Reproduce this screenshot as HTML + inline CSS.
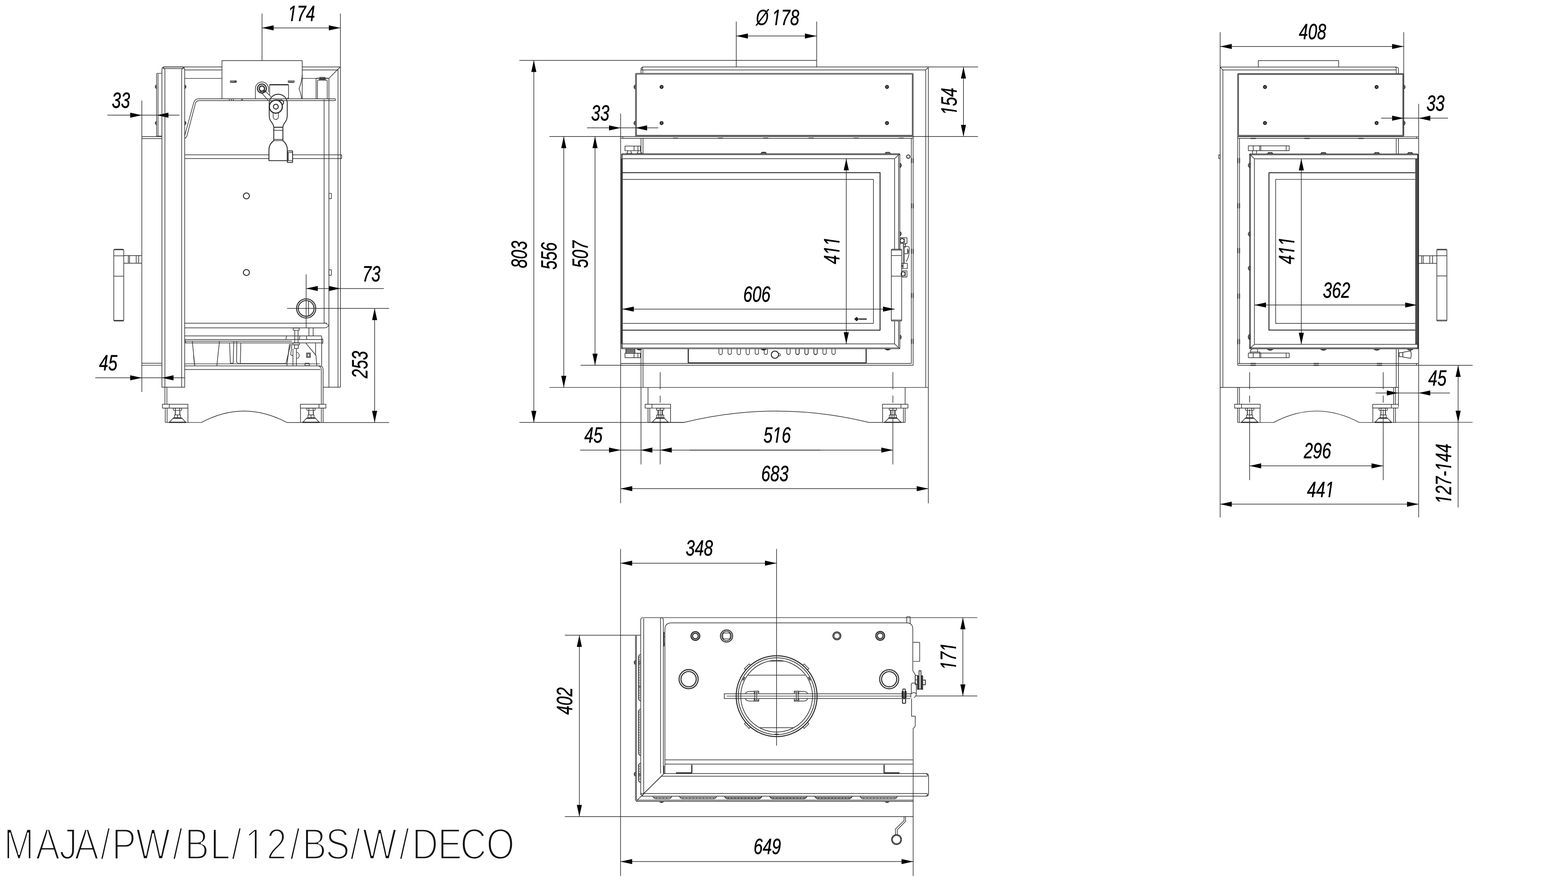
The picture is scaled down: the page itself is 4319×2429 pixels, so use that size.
<!DOCTYPE html>
<html lang="en"><head><meta charset="utf-8"><title>MAJA/PW/BL/12/BS/W/DECO</title>
<style>
html,body{margin:0;padding:0;background:#fff}
body{width:4319px;height:2429px;overflow:hidden;position:relative}
svg{display:block;position:absolute;left:0;top:0}
svg path,svg rect,svg circle,svg ellipse{fill:none;stroke:#2a2a2a;stroke-width:1.7;stroke-linecap:butt;stroke-linejoin:round}
svg path.a{fill:#000;stroke:none}
svg path.w{fill:#fff;stroke:none}
svg text.d tspan.o{stroke-width:0.2px}
svg .k{fill:#111;stroke:none}
svg text.d{font-family:"Liberation Sans",sans-serif;font-style:italic;font-kerning:none;font-variant-ligatures:none;fill:#000;text-anchor:middle;stroke:#000;stroke-width:0.7px}
svg text.t{font-family:"Liberation Sans",sans-serif;font-kerning:none;fill:#111;stroke:#fff;stroke-width:4px;paint-order:fill stroke}
</style></head><body>
<svg width="4319" height="2429" viewBox="0 0 4319 2429">
<g id="left">
<path d="M721.7 37.4L721.7 165.9"/>
<path d="M937.7 37.4L937.7 184.3"/>
<path d="M721.7 76.8L937.7 76.8"/>
<path class="a" d="M721.7 76.8L753.7 69.8L753.7 83.8 Z"/>
<path class="a" d="M937.7 76.8L905.7 69.8L905.7 83.8 Z"/>
<text class="d" transform="translate(830.3 57.8) scale(0.74 1)" font-size="61">174</text>
<path class="w" transform="translate(830.3 57.8) scale(0.74 1)" d="M-51.4 1.8L-39.4 1.8L-37.8 -6.4L-50.0 -6.4ZM-33.1 1.8L-21.1 1.8L-19.9 -6.4L-31.5 -6.4Z"/>
<path d="M296.1 317.2L494.4 317.2"/>
<path class="a" d="M390.6 317.2L358.6 310.2L358.6 324.2 Z"/>
<path class="a" d="M431.9 317.2L463.9 310.2L463.9 324.2 Z"/>
<text class="d" transform="translate(333.2 296.5) scale(0.74 1)" font-size="61">33</text>
<path d="M450.3 184.3L611.2 184.3"/>
<path d="M832.6 184.3L937.7 184.3"/>
<path d="M508.7 192.6L611.2 192.6"/>
<path d="M832.6 192.6L931.1 192.6"/>
<path d="M508.7 216L611.2 216"/>
<path d="M832.6 216L906 216"/>
<path d="M906 216L931.1 190.3L937.7 184.3"/>
<path d="M931.1 190.3L931.1 192.6"/>
<path d="M446 202L433.6 202Q431.3 202 431.3 204.3L431.3 374.9L446 374.9"/>
<path d="M435.3 203.6L435.3 374.9"/>
<path d="M431.3 234C426.3 236.2 426.3 241.8 431.3 244Z" style="fill:#777;stroke-width:1.6"/>
<path d="M431.3 333.9C426.3 336.1 426.3 341.6 431.3 343.9Z" style="fill:#777;stroke-width:1.6"/>
<path d="M508.7 234C513.7 236.2 513.7 241.8 508.7 244Z" style="fill:#777;stroke-width:1.6"/>
<path d="M508.7 333.9C513.7 336.1 513.7 341.6 508.7 343.9Z" style="fill:#777;stroke-width:1.6"/>
<path d="M390.6 376.2L446 376.2"/>
<path d="M390.6 381.6L446 381.6"/>
<path d="M923.7 272.1L547.1 272.1Q537.1 272.1 533.8 282.1L508.7 373.9"/>
<path d="M923.7 277.1L548.8 277.1Q541.1 277.1 538.4 284.4L515.4 372.2Q513.7 378.9 508.7 381.3"/>
<path d="M923.7 272.1L923.7 277.1"/>
<path d="M779.2 350.5L779.2 387.3Q791.5 397.3 791.5 412.3L791.5 442.4L740.8 442.4L740.8 412.3Q740.8 397.3 754.1 387.3L754.1 350.5" style="stroke-width:2.4"/>
<path d="M754.1 350.5L779.2 350.5" style="stroke-width:2.6"/>
<path d="M754.1 358.9L779.2 358.9"/>
<path d="M754.1 383.9L779.2 383.9"/>
<path d="M754.1 387.3L779.2 387.3"/>
<rect x="791.5" y="415.6" width="14.4" height="31.8" style="stroke-width:2.4" rx="1"/>
<path d="M791.5 420L805.9 420"/>
<path d="M791.5 442.4L805.9 442.4"/>
<path d="M794.2 420L794.2 442.4"/>
<path d="M508.7 426.3L740.8 426.3"/>
<path d="M508.7 436.7L740.8 436.7"/>
<path d="M805.9 426.3L941.1 426.3"/>
<path d="M805.9 436.7L941.1 436.7"/>
<path d="M941.1 426.3L941.1 436.7"/>
<path d="M611.4 272.7L611.4 166.8L832.5 166.8L832.5 272.7"/>
<path d="M832.5 205.9Q830.7 228.3 823.7 243.9Q829 257.6 831.1 272.7"/>
<rect x="634.4" y="222.7" width="16.7" height="4.2" rx="0.6"/>
<path d="M646.6 222.7L646.6 226.9"/>
<path d="M648.7 222.7L648.7 226.9"/>
<path d="M636.1 225.5L645.9 225.5" style="stroke-width:1.5"/>
<rect x="793.8" y="222.7" width="16.6" height="4.2" rx="0.6"/>
<path d="M795.4 225.5L808 225.5" style="stroke-width:1.5"/>
<path d="M631.5 272.7L631.5 277.5"/>
<path d="M637.5 272.7L637.5 277.5"/>
<path d="M642.8 272.7L642.8 277.5"/>
<path d="M666.2 272.7L666.2 277.5"/>
<path d="M667.1 272.7L667.1 277.5"/>
<path d="M870.6 272.7L870.6 217.1Q870.6 215.4 872.3 215.4L904.4 215.4"/>
<path d="M874.4 272.7L874.4 222.7Q874.4 221 876.5 221L899.5 221Q901.4 221 901.4 222.7L901.4 272.7"/>
<rect x="880.7" y="212.9" width="14.7" height="4.5" rx="0.6"/>
<path d="M877.9 218.8L898.2 218.8"/>
<path d="M742.7 261.8L742.7 233.9Q742.7 232.7 743.9 232.7L793.6 232.7Q794.7 232.7 794.7 233.9L794.7 270.2L791.2 270.2"/>
<path d="M743.4 233.6L794 233.6" style="stroke-width:3"/>
<path d="M703.5 272.7L703.5 243.9A18 18 0 0 1 739.5 243.9L739.5 253.4"/>
<circle cx="721.4" cy="243.9" r="12.3" style="stroke-width:3"/>
<circle cx="721.4" cy="243.9" r="7.3" style="stroke-width:3.4"/>
<path d="M714.8 248.9L740.2 278.3"/>
<path d="M728.1 247.8L746.2 266.7"/>
<path d="M723.5 254.1L731.4 248.7"/>
<path d="M754.1 350.5Q753.5 343.6 747.9 336.6Q741.6 328.9 741.6 317.7L741.6 282.1A24.9 24.9 0 0 1 791.2 282.1L791.2 317.7Q791.2 328.9 785.4 336.6Q779.8 343.6 779.2 350.5" style="stroke-width:2.4"/>
<path d="M752.4 310.7L752.4 321.9A7.1 7.1 0 0 0 766.8 321.9L766.8 310.7"/>
<path d="M759.1 275.8L773.1 275.8A6.7 6.7 0 0 1 777.3 288.4" style="stroke-width:2.6"/>
<path d="M767.5 277.5Q774.5 280 776.6 287"/>
<circle cx="759.8" cy="293.7" r="17.9" style="stroke-width:3.2;fill:#fff"/>
<circle cx="759.8" cy="293.7" r="6.7" style="stroke-width:2.6"/>
<path d="M390.6 277.1L390.6 1079.5"/>
<path d="M446 1066.4L446 191.3Q446 184.3 453 184.3L501.7 184.3Q508.7 184.3 508.7 191.3L508.7 1066.4Z"/>
<path d="M454.3 1066.4L454.3 194.3Q454.3 188.3 448.3 186.3"/>
<path d="M500.4 1066.4L500.4 194.3Q500.4 188.3 506.4 186.3"/>
<path d="M449 188.8L505.7 188.8"/>
<path d="M937.7 184.3L937.7 1066.4"/>
<path d="M931.1 192L931.1 1066.4"/>
<path d="M906 216L906 1066.4"/>
<path d="M892.7 274L892.7 890"/>
<path d="M890 1066.4L937.7 1066.4"/>
<rect x="313.4" y="686.4" width="27.4" height="197.8" rx="3"/>
<path d="M314.4 687.9L339.8 687.9"/>
<path d="M314.4 882.2L339.8 882.2"/>
<path d="M313.4 704.5L340.8 704.5"/>
<path d="M313.4 760.6L340.8 760.6"/>
<path d="M340.8 703.8L390.6 703.8"/>
<path d="M340.8 724.8L390.6 724.8"/>
<path d="M353.5 703.8L353.5 724.8"/>
<path d="M356.8 703.8L356.8 724.8"/>
<path d="M375.2 703.8L375.2 724.8"/>
<path d="M381.9 703.8L381.9 724.8"/>
<circle cx="678.7" cy="539.5" r="8.3" style="stroke-width:2.6"/>
<circle cx="678.7" cy="750.5" r="8.3" style="stroke-width:2.6"/>
<rect x="906" y="532.5" width="6.7" height="14.4"/>
<rect x="906" y="743.2" width="6.7" height="14.7"/>
<path d="M843.3 794.6L1057.3 794.6"/>
<path class="a" d="M843.3 794.6L875.3 787.6L875.3 801.6 Z"/>
<path class="a" d="M937.7 794.6L905.7 787.6L905.7 801.6 Z"/>
<text class="d" transform="translate(1023.1 774.6) scale(0.74 1)" font-size="61">73</text>
<path d="M843.3 755.6L843.3 902.9"/>
<circle cx="843.3" cy="849.4" r="26.4" style="stroke-width:2.6"/>
<circle cx="843.3" cy="849.4" r="21.7" style="stroke-width:2.6"/>
<path d="M849.9 828.7L849.9 870.1"/>
<path d="M790.8 849.4L1071.9 849.4"/>
<path d="M1031.9 849.4L1031.9 1163.6"/>
<path class="a" d="M1031.9 849.4L1024.9 881.4L1038.9 881.4 Z"/>
<path class="a" d="M1031.9 1163.6L1024.9 1131.6L1038.9 1131.6 Z"/>
<text class="d" transform="translate(1012.2 1004) rotate(-90) scale(0.74 1)" font-size="61">253</text>
<path d="M554.5 1163.6Q671.3 1100.5 790.2 1163.6"/>
<path d="M790.2 1163.6L1071.9 1163.6"/>
<path d="M262.4 1040.4L508.7 1040.4"/>
<path class="a" d="M390.6 1040.4L358.6 1033.4L358.6 1047.4 Z"/>
<path class="a" d="M446 1040.4L478 1033.4L478 1047.4 Z"/>
<text class="d" transform="translate(298.2 1019.7) scale(0.74 1)" font-size="61">45</text>
<path d="M390.6 1000.3L446 1000.3"/>
<path d="M390.6 1006L446 1006"/>
<path d="M508.7 890.2L901 890.2"/>
<path d="M508.7 902.9L892.7 902.9Q905 902.9 906 890.2"/>
<path d="M892.7 888.5Q892.7 890.2 897.7 890.2Q901 890.2 901 895.2"/>
<path d="M508.7 925.2L886 925.2"/>
<path d="M508.7 935.2L886 935.2"/>
<path d="M886 925.2L886 1007.7"/>
<rect x="886" y="933.6" width="3.3" height="11.7"/>
<path d="M508.7 939.6L804.2 939.6"/>
<path d="M508.7 944.3L884.3 944.3"/>
<path d="M508.7 935.2L512.1 944.3"/>
<path d="M529.8 940.2L536.4 1007.7"/>
<path d="M604.5 940.2L597.2 1007.7"/>
<path d="M632.3 945.3L634.6 1000.3L642.3 1000.3L643.9 940.2"/>
<path d="M652.3 940.2L651.6 997L655.6 1001L787.5 1001L800.9 946.9"/>
<path d="M663.3 945.3L662 1000.3"/>
<path d="M797.5 946.9L790.2 1007.7"/>
<path d="M533.1 980.3L536.4 1007.7"/>
<path d="M508.7 1002L881 1002"/>
<path d="M508.7 1007.7L881 1007.7"/>
<path d="M804.2 946.9L800.9 977L806.9 980.3"/>
<path d="M508.7 1017.7L882.6 1017.7"/>
<path d="M881 1007.7Q890 1008.4 890 1017.7L890 1113.2"/>
<path d="M885 1017.7L885 1113.2"/>
<path d="M877.6 1007.7Q885 1010.4 885 1017.7"/>
<rect x="807.5" y="903.5" width="16.7" height="6" rx="1"/>
<path d="M811.9 909.5L811.9 944.3"/>
<path d="M820.9 909.5L820.9 944.3"/>
<rect x="806.9" y="944.3" width="18" height="5.3" rx="1"/>
<rect x="810.9" y="949.6" width="10.7" height="10"/>
<path d="M850.9 902.9L850.9 925.2"/>
<path d="M862.6 902.9L862.6 925.2"/>
<path d="M806.9 960.3L806.9 1007.7"/>
<path d="M816.5 960.3L816.5 1007.7"/>
<path d="M817.5 970.3A9 9 0 0 1 817.5 987.7"/>
<rect x="844.3" y="972" width="10.6" height="12.3"/>
<rect x="846.9" y="974.3" width="5.7" height="7.7"/>
<rect x="840.2" y="1000.3" width="11.7" height="6.7"/>
<path d="M842.6 945.3L870.3 978.6L872.6 1007.7"/>
<path d="M869.3 945.3L869.3 978.6"/>
<path d="M789.2 925.2L787.5 935.2"/>
<path d="M843.6 925.2L845.3 935.2"/>
<path d="M825.9 925.2L824.9 935.2"/>
<path d="M454.3 1066.4L454.3 1113.2"/>
<path d="M459.7 1066.4L459.7 1113.2"/>
<rect x="447.4" y="1113.4" width="70.2" height="10.4"/>
<path d="M466.3 1113.4L466.3 1123.8"/>
<path d="M455.2 1123.8L455.2 1163.5"/>
<path d="M460.3 1123.8L460.3 1163.5"/>
<path d="M517.6 1123.8L517.6 1163.5"/>
<path d="M455.2 1163.5L554.7 1163.5"/>
<rect x="827.4" y="1113.4" width="70.2" height="10.4"/>
<path d="M878.7 1113.4L878.7 1123.8"/>
<path d="M885 1123.8L885 1163.5"/>
<path d="M890 1123.8L890 1163.5"/>
<path d="M827.7 1123.8L827.7 1163.5"/>
<rect x="477.4" y="1124.1" width="23.2" height="5.9" rx="1.6"/>
<path d="M483.1 1124.1L483.1 1130"/>
<path d="M494.9 1124.1L494.9 1130"/>
<path d="M482.7 1130L482.7 1142.6" style="stroke-width:2.2"/>
<path d="M495.3 1130L495.3 1142.6" style="stroke-width:2.2"/>
<rect x="480.7" y="1142.6" width="16.6" height="7.8" rx="1"/>
<path d="M489 1142.6L489 1150.4"/>
<path d="M476.4 1151.6L501.6 1151.6" style="stroke-width:3.2"/>
<path d="M476.6 1152L466.5 1162.9L511.5 1162.9L501.4 1152"/>
<path d="M465 1163.1L513 1163.1" style="stroke-width:3.2"/>
<rect x="845.1" y="1124.1" width="23.2" height="5.9" rx="1.6"/>
<path d="M850.8 1124.1L850.8 1130"/>
<path d="M862.6 1124.1L862.6 1130"/>
<path d="M850.4 1130L850.4 1142.6" style="stroke-width:2.2"/>
<path d="M863 1130L863 1142.6" style="stroke-width:2.2"/>
<rect x="848.4" y="1142.6" width="16.6" height="7.8" rx="1"/>
<path d="M856.7 1142.6L856.7 1150.4"/>
<path d="M844.1 1151.6L869.3 1151.6" style="stroke-width:3.2"/>
<path d="M844.3 1152L834.2 1162.9L879.2 1162.9L869.1 1152"/>
<path d="M832.7 1163.1L880.7 1163.1" style="stroke-width:3.2"/>
</g>
<g id="front">
<path d="M1430.7 166.3L2249.5 166.3"/>
<path d="M1470.4 166.3L1470.4 1163.4"/>
<path class="a" d="M1470.4 166.3L1463.4 198.3L1477.4 198.3 Z"/>
<path class="a" d="M1470.4 1163.4L1463.4 1131.4L1477.4 1131.4 Z"/>
<path d="M1552.9 375.9L1552.9 1067"/>
<path class="a" d="M1552.9 375.9L1545.9 407.9L1559.9 407.9 Z"/>
<path class="a" d="M1552.9 1067L1545.9 1035L1559.9 1035 Z"/>
<path d="M1639 375.9L1639 1005.9"/>
<path class="a" d="M1639 375.9L1632 407.9L1646 407.9 Z"/>
<path class="a" d="M1639 1005.9L1632 973.9L1646 973.9 Z"/>
<path d="M1513.5 375.9L1715.5 375.9"/>
<path d="M1599.3 1005.9L1715.5 1005.9"/>
<path d="M1513.5 1067L2557 1067"/>
<path d="M1430.7 1163.4L1884.1 1163.4"/>
<text class="d" transform="translate(1450.7 700.8) rotate(-90) scale(0.74 1)" font-size="61">803</text>
<text class="d" transform="translate(1532.9 704.9) rotate(-90) scale(0.74 1)" font-size="61">556</text>
<text class="d" transform="translate(1618.7 700.3) rotate(-90) scale(0.74 1)" font-size="61">507</text>
<path d="M2028 59.4L2028 184.3"/>
<path d="M2028 99.2L2249 99.2"/>
<path class="a" d="M2028 99.2L2060 92.2L2060 106.2 Z"/>
<path class="a" d="M2249 99.2L2217 92.2L2217 106.2 Z"/>
<text class="d" transform="translate(2141.8 69.4) scale(0.74 1)" font-size="61"><tspan class="o">Ø</tspan> 178</text>
<path class="w" transform="translate(2141.8 69.4) scale(0.74 1)" d="M-21.5 1.8L-9.6 1.8L-8.0 -6.4L-20.2 -6.4ZM-3.3 1.8L8.7 1.8L10.0 -6.4L-1.7 -6.4Z"/>
<path d="M2249.5 59.4L2249.5 184.3"/>
<path d="M1765.6 202L1765.6 191.3Q1765.6 184.3 1772.6 184.3L2693.9 184.3"/>
<path d="M1765.6 192.6L2550 192.6"/>
<path d="M1770.6 192.6L1770.6 202"/>
<path d="M1770.6 192.6Q1767.2 188.6 1771.2 185.3"/>
<path d="M2550 192L2557 186"/>
<path d="M2550 192.6L2550 1067"/>
<path d="M2557 185.8L2557 1386"/>
<path d="M1709.5 312.8L1709.5 1386"/>
<rect x="1750.5" y="202" width="764.8" height="173.2" rx="1.5"/>
<rect x="1753" y="204.5" width="759.8" height="168.2"/>
<circle cx="1822.3" cy="239.4" r="5" style="stroke-width:1;fill:#1c1c1c"/>
<path d="M1819.3 239.4h6" style="stroke:#aaa;stroke-width:1"/>
<path d="M1822.3 236.4v6" style="stroke:#aaa;stroke-width:1"/>
<circle cx="1822.3" cy="338.9" r="5" style="stroke-width:1;fill:#1c1c1c"/>
<path d="M1819.3 338.9h6" style="stroke:#aaa;stroke-width:1"/>
<path d="M1822.3 335.9v6" style="stroke:#aaa;stroke-width:1"/>
<circle cx="2443.2" cy="239.4" r="5" style="stroke-width:1;fill:#1c1c1c"/>
<path d="M2440.2 239.4h6" style="stroke:#aaa;stroke-width:1"/>
<path d="M2443.2 236.4v6" style="stroke:#aaa;stroke-width:1"/>
<circle cx="2443.2" cy="338.9" r="5" style="stroke-width:1;fill:#1c1c1c"/>
<path d="M2440.2 338.9h6" style="stroke:#aaa;stroke-width:1"/>
<path d="M2443.2 335.9v6" style="stroke:#aaa;stroke-width:1"/>
<path d="M1750.2 233.7C1744.8 236.3 1744.8 242.5 1750.2 245.1Z" style="fill:#777;stroke-width:1.6"/>
<path d="M1750.2 333.2C1744.8 335.8 1744.8 342 1750.2 344.6Z" style="fill:#777;stroke-width:1.6"/>
<path d="M1617 352.2L1813 352.2"/>
<path class="a" d="M1709.5 352.2L1677.5 345.2L1677.5 359.2 Z"/>
<path class="a" d="M1750.5 352.2L1782.5 345.2L1782.5 359.2 Z"/>
<text class="d" transform="translate(1653.4 331.5) scale(0.74 1)" font-size="61">33</text>
<path d="M1709.5 375.9L2693.9 375.9"/>
<path d="M1709.5 380.9L2515.3 380.9"/>
<path d="M1715.5 375.9L1715.5 380.9"/>
<path d="M1854 379.9L1867.4 379.9" style="stroke-width:1.5"/>
<path d="M1977.6 379.9L1990.9 379.9" style="stroke-width:1.5"/>
<path d="M2102.8 379.9L2116.1 379.9" style="stroke-width:1.5"/>
<path d="M2228 379.9L2241.3 379.9" style="stroke-width:1.5"/>
<path d="M1978.5 379.9L1991.8 379.9" style="stroke-width:1.5"/>
<path d="M2102.6 379.9L2116 379.9" style="stroke-width:1.5"/>
<path d="M2227.2 379.9L2240.5 379.9" style="stroke-width:1.5"/>
<path d="M2351.4 379.9L2364.7 379.9" style="stroke-width:1.5"/>
<path d="M2475.9 379.9L2489.2 379.9" style="stroke-width:1.5"/>
<path d="M2653.8 184.3L2653.8 375.9"/>
<path class="a" d="M2653.8 184.3L2646.8 216.3L2660.8 216.3 Z"/>
<path class="a" d="M2653.8 375.9L2646.8 343.9L2660.8 343.9 Z"/>
<text class="d" transform="translate(2634.5 279.4) rotate(-90) scale(0.74 1)" font-size="61">154</text>
<path class="w" transform="translate(2634.5 279.4) rotate(-90) scale(0.74 1)" d="M-51.4 1.8L-39.4 1.8L-37.8 -6.4L-50.0 -6.4ZM-33.1 1.8L-21.1 1.8L-19.9 -6.4L-31.5 -6.4Z"/>
<path d="M1765.6 380.9L1765.6 423.3"/>
<path d="M1771.2 380.9L1771.2 423.3"/>
<path d="M1765.6 961.8L1765.6 1279"/>
<path d="M1771.2 961.8L1771.2 1067"/>
<path d="M2510.3 380.9L2510.3 1000.9"/>
<path d="M2515.3 375.2L2515.3 1005.9"/>
<path d="M1709.5 1005.9L2515.3 1005.9"/>
<path d="M1709.5 1000.9L2510.3 1000.9"/>
<path d="M2510.6 560.2L2510.6 573.5" style="stroke-width:2.6"/>
<path d="M2515.3 560.2L2515.3 573.5" style="stroke-width:2.6"/>
<path d="M2510.6 685.4L2510.6 698.7" style="stroke-width:2.6"/>
<path d="M2515.3 685.4L2515.3 698.7" style="stroke-width:2.6"/>
<path d="M2510.6 807.2L2510.6 820.6" style="stroke-width:2.6"/>
<path d="M2515.3 807.2L2515.3 820.6" style="stroke-width:2.6"/>
<path d="M2510.6 933.4L2510.6 946.8" style="stroke-width:2.6"/>
<path d="M2515.3 933.4L2515.3 946.8" style="stroke-width:2.6"/>
<path d="M2510.6 435.7L2510.6 449" style="stroke-width:2.6"/>
<path d="M2515.3 435.7L2515.3 449" style="stroke-width:2.6"/>
<circle cx="2501.9" cy="431.3" r="4.7" style="stroke-width:2.4"/>
<rect x="1721.5" y="402.3" width="42.4" height="12.7"/>
<path d="M1746.5 402.3L1746.5 415"/>
<path d="M1757.2 402.3L1757.2 415"/>
<path d="M1728.8 415L1728.8 419L1725.5 422.7L1741.2 422.7L1737.9 419L1737.9 415"/>
<path d="M1757.2 415L1757.2 419L1753.9 422.7L1768.9 422.7L1764.9 419L1764.9 415"/>
<rect x="1721.5" y="972.8" width="42.4" height="12.4"/>
<path d="M1746.5 972.8L1746.5 985.2"/>
<path d="M1757.2 972.8L1757.2 985.2"/>
<rect x="1723.8" y="961.1" width="25.1" height="11.7"/>
<path d="M1723.8 963.5L1748.9 963.5" style="stroke-width:1.5"/>
<path d="M1723.8 965.8L1748.9 965.8" style="stroke-width:1.5"/>
<path d="M1723.8 968.1L1748.9 968.1" style="stroke-width:1.5"/>
<path d="M1723.8 970.5L1748.9 970.5" style="stroke-width:1.5"/>
<path d="M1753.9 961.1Q1760.6 967.5 1767.9 961.1" style="fill:#333"/>
<path d="M1709.5 1000.9L1764.9 1000.9"/>
<rect x="1712.2" y="423.3" width="766.4" height="537.2" rx="2"/>
<path d="M1712.2 425.8L2478.6 425.8"/>
<path d="M1712.2 958L2478.6 958"/>
<path d="M1715.2 437.1L2464.2 437.1"/>
<path d="M1715.2 947.1L2464.2 947.1"/>
<path d="M2464.2 437.1L2464.2 947.1"/>
<path d="M2475.1 428.3L2475.1 955.5"/>
<path d="M2464.2 437.1L2478.6 423.3"/>
<path d="M2464.2 947.1L2478.6 960.5"/>
<path d="M1712.8 437.1L1712.8 947.1" style="stroke-width:4.4"/>
<path d="M1714.4 425.3L1714.4 958.5" style="stroke-width:1.4"/>
<path d="M1713.8 475.5L2424.1 475.5L2424.1 909.3L1713.8 909.3" style="stroke-width:2.6"/>
<path d="M1715.8 494.1L2405.8 494.1L2405.8 890.6L1715.8 890.6"/>
<path d="M2095.4 423.3L2098.8 419.3L2108.1 419.3L2111.4 423.3"/>
<path d="M2097.4 421.3L2109.4 421.3" style="stroke-width:1.5"/>
<path d="M2095.6 423.3L2099 419.3L2108.3 419.3L2111.7 423.3"/>
<path d="M2097.6 421.3L2109.7 421.3" style="stroke-width:1.5"/>
<path d="M2437.2 423.3L2440.5 419.3L2449.9 419.3L2453.2 423.3"/>
<path d="M2439.2 421.3L2451.2 421.3" style="stroke-width:1.5"/>
<path d="M2096.1 961.1Q2103.4 967.5 2111.1 961.1" style="fill:#333"/>
<path d="M2096.3 961.1Q2103.6 967.5 2111 961.1" style="fill:#333"/>
<path d="M2437.5 961.1Q2445.2 967.5 2452.9 961.1" style="fill:#333"/>
<path d="M2478.6 449.7C2484 452.4 2484 459 2478.6 461.7Z" style="fill:#777;stroke-width:1.6"/>
<path d="M2478.6 449C2484 451.7 2484 458.3 2478.6 461Z" style="fill:#777;stroke-width:1.6"/>
<path d="M2478.6 637.6C2484 640.3 2484 646.9 2478.6 649.6Z" style="fill:#777;stroke-width:1.6"/>
<path d="M2478.6 922.4C2484 925.1 2484 931.7 2478.6 934.4Z" style="fill:#777;stroke-width:1.6"/>
<text class="d" transform="translate(2084.8 830.6) scale(0.74 1)" font-size="61">606</text>
<path d="M2331 437.1L2331 947.1"/>
<path class="a" d="M2331 437.1L2324 469.1L2338 469.1 Z"/>
<path class="a" d="M2331 947.1L2324 915.1L2338 915.1 Z"/>
<text class="d" transform="translate(2312.3 689.8) rotate(-90) scale(0.74 1)" font-size="61">411</text>
<path class="w" transform="translate(2312.3 689.8) rotate(-90) scale(0.74 1)" d="M-17.4 1.8L-5.5 1.8L-3.9 -6.4L-16.1 -6.4ZM0.8 1.8L12.8 1.8L14.1 -6.4L2.4 -6.4ZM16.5 1.8L28.4 1.8L30.0 -6.4L17.9 -6.4ZM34.7 1.8L46.7 1.8L48.0 -6.4L36.3 -6.4Z"/>
<path d="M2353.4 878.7L2359.4 873L2365.4 878.7L2359.4 884.4Z" style="stroke-width:1;fill:#222"/>
<path d="M2366.1 878.7L2387.4 878.7" style="stroke-width:3.5"/>
<rect x="2455.2" y="686.4" width="28.4" height="197.6" style="fill:#fff" rx="1.7"/>
<path d="M2455.2 688.7L2483.6 688.7"/>
<path d="M2455.2 703.7L2483.6 703.7"/>
<path d="M2455.2 760.5L2483.6 760.5"/>
<path d="M2455.9 881.4L2482.9 881.4"/>
<rect x="2478.6" y="654.7" width="19.7" height="15.7" rx="1"/>
<circle cx="2484.9" cy="662.7" r="5.7" style="stroke-width:2.4"/>
<path d="M2490.9 657L2490.9 668.7"/>
<rect x="2483.6" y="745.5" width="14.7" height="17.7" rx="1"/>
<circle cx="2487.6" cy="754.2" r="5.7" style="stroke-width:2.4"/>
<path d="M2493.6 747.1L2493.6 761.2"/>
<rect x="2483.6" y="725.4" width="15.7" height="14.1"/>
<path d="M2487.6 725.4L2487.6 739.5"/>
<circle cx="2484.9" cy="732.5" r="1.7"/>
<path d="M2478.6 670.4L2478.6 686.4"/>
<path d="M2488.2 670.4L2488.2 725.4"/>
<path d="M2494.3 670.4L2494.3 680.4L2490.9 680.4L2490.9 725.4"/>
<path d="M2499.3 678.7Q2504.9 677.7 2504.9 687Q2504.9 707.1 2495.9 720.4"/>
<path d="M2499.3 685.4Q2501.9 685.4 2501.9 692.1Q2501.9 698.7 2499.3 698.7" style="fill:#333"/>
<path d="M2488.2 678.7L2499.3 678.7"/>
<path d="M2490.9 698.7L2499.3 698.7"/>
<path d="M2488.2 673.7L2494.3 673.7"/>
<path d="M1713.8 851.3L2464.2 851.3"/>
<path class="a" d="M1713.8 851.3L1745.8 844.3L1745.8 858.3 Z"/>
<path class="a" d="M2464.2 851.3L2432.2 844.3L2432.2 858.3 Z"/>
<path d="M1895.8 960.5L1895.8 999.5" style="stroke-width:3"/>
<path d="M2385.8 960.5L2385.8 999.5" style="stroke-width:3"/>
<path d="M1895.8 999.5L2385.8 999.5" style="stroke-width:3"/>
<path d="M1980.2 961.1L1980.2 972.1A4.7 4.7 0 0 0 1989.6 972.1L1989.6 961.1"/>
<path d="M2005.3 961.1L2005.3 972.1A4.7 4.7 0 0 0 2014.6 972.1L2014.6 961.1"/>
<path d="M2030.3 961.1L2030.3 972.1A4.7 4.7 0 0 0 2039.7 972.1L2039.7 961.1"/>
<path d="M2055 961.1L2055 972.1A4.7 4.7 0 0 0 2064.4 972.1L2064.4 961.1"/>
<path d="M2080.1 961.1L2080.1 972.1A4.7 4.7 0 0 0 2089.4 972.1L2089.4 961.1"/>
<path d="M2104.8 961.1L2104.8 972.1A4.7 4.7 0 0 0 2114.1 972.1L2114.1 961.1"/>
<path d="M2167.2 961.1L2167.2 972.1A4.7 4.7 0 0 0 2176.5 972.1L2176.5 961.1"/>
<path d="M2191.9 961.1L2191.9 972.1A4.7 4.7 0 0 0 2201.2 972.1L2201.2 961.1"/>
<path d="M2216.9 961.1L2216.9 972.1A4.7 4.7 0 0 0 2226.3 972.1L2226.3 961.1"/>
<path d="M2241.6 961.1L2241.6 972.1A4.7 4.7 0 0 0 2251 972.1L2251 961.1"/>
<circle cx="2134.5" cy="976.8" r="10" style="stroke-width:2.6"/>
<path d="M2143.8 973.5Q2149.8 973.5 2149.8 977.2Q2149.8 980.8 2143.8 980.2"/>
<path d="M2192.1 961.1L2192.1 972.1A4.7 4.7 0 0 0 2201.5 972.1L2201.5 961.1"/>
<path d="M2216.8 961.1L2216.8 972.1A4.7 4.7 0 0 0 2226.2 972.1L2226.2 961.1"/>
<path d="M2241.9 961.1L2241.9 972.1A4.7 4.7 0 0 0 2251.2 972.1L2251.2 961.1"/>
<path d="M2266.6 961.1L2266.6 972.1A4.7 4.7 0 0 0 2275.9 972.1L2275.9 961.1"/>
<path d="M2291.3 961.1L2291.3 972.1A4.7 4.7 0 0 0 2300.6 972.1L2300.6 961.1"/>
<rect x="1777.1" y="1113.4" width="70.1" height="10.6"/>
<path d="M1795.8 1113.4L1795.8 1124"/>
<path d="M1784.9 1066.9L1784.9 1113.4"/>
<path d="M1784.9 1124L1784.9 1163.3"/>
<path d="M1789.8 1124L1789.8 1163.3"/>
<path d="M1847 1124L1847 1163.3"/>
<path d="M1784.9 1163.3L1883.8 1163.3"/>
<rect x="2430.7" y="1113.4" width="70.1" height="10.6"/>
<path d="M2481.6 1113.4L2481.6 1124"/>
<path d="M2493.2 1066.9L2493.2 1113.4"/>
<path d="M2493.2 1124L2493.2 1163.3"/>
<path d="M2488.4 1124L2488.4 1163.3"/>
<path d="M2431.2 1124L2431.2 1163.3"/>
<path d="M2393.3 1163.3L2493.2 1163.3"/>
<rect x="1808.3" y="1124.3" width="20.4" height="5.3" rx="1.2"/>
<path d="M1812.9 1129.6L1812.9 1142.7" style="stroke-width:3"/>
<path d="M1824.1 1129.6L1824.1 1142.7" style="stroke-width:3"/>
<path d="M1818.5 1124L1818.5 1163.4"/>
<rect x="1808.7" y="1142.7" width="19.6" height="7.7" rx="1"/>
<path d="M1813.7 1142.7L1813.7 1150.4"/>
<path d="M1823.3 1142.7L1823.3 1150.4"/>
<path d="M1806.1 1151.6L1830.9 1151.6" style="stroke-width:3.2"/>
<path d="M1806.5 1152L1796.5 1162.8L1840.5 1162.8L1830.5 1152"/>
<path d="M1794.5 1163L1842.5 1163" style="stroke-width:3.2"/>
<path d="M1818.5 1025L1818.5 1072"/>
<path d="M1818.5 1089.6L1818.5 1109.3"/>
<path d="M1818.5 1163.4L1818.5 1279"/>
<rect x="2449.2" y="1124.3" width="20.4" height="5.3" rx="1.2"/>
<path d="M2453.8 1129.6L2453.8 1142.7" style="stroke-width:3"/>
<path d="M2465 1129.6L2465 1142.7" style="stroke-width:3"/>
<path d="M2459.4 1124L2459.4 1163.4"/>
<rect x="2449.6" y="1142.7" width="19.6" height="7.7" rx="1"/>
<path d="M2454.6 1142.7L2454.6 1150.4"/>
<path d="M2464.2 1142.7L2464.2 1150.4"/>
<path d="M2447 1151.6L2471.8 1151.6" style="stroke-width:3.2"/>
<path d="M2447.4 1152L2437.4 1162.8L2481.4 1162.8L2471.4 1152"/>
<path d="M2435.4 1163L2483.4 1163" style="stroke-width:3.2"/>
<path d="M2459.4 1025L2459.4 1072"/>
<path d="M2459.4 1089.6L2459.4 1109.3"/>
<path d="M2459.4 1163.4L2459.4 1279"/>
<path d="M1883.8 1163.4Q2138.6 1100.8 2393.3 1163.4"/>
<path d="M1598 1239.6L2260 1239.6"/>
<path class="a" d="M1709.5 1239.6L1677.5 1232.6L1677.5 1246.6 Z"/>
<path class="a" d="M1764.9 1239.6L1796.9 1232.6L1796.9 1246.6 Z"/>
<path class="a" d="M1818.3 1239.6L1850.3 1232.6L1850.3 1246.6 Z"/>
<text class="d" transform="translate(1634.5 1218.9) scale(0.74 1)" font-size="61">45</text>
<text class="d" transform="translate(2140.6 1218.9) scale(0.74 1)" font-size="61">516</text>
<path class="w" transform="translate(2140.6 1218.9) scale(0.74 1)" d="M-17.4 1.8L-5.5 1.8L-3.9 -6.4L-16.1 -6.4ZM0.8 1.8L12.8 1.8L14.1 -6.4L2.4 -6.4Z"/>
<text class="d" transform="translate(2134.4 1324.7) scale(0.74 1)" font-size="61">683</text>
<path d="M1900 1239.6L2459.5 1239.6"/>
<path class="a" d="M2459.5 1239.6L2427.5 1232.6L2427.5 1246.6 Z"/>
<path d="M1709.5 1345.7L2557 1345.7"/>
<path class="a" d="M1709.5 1345.7L1741.5 1338.7L1741.5 1352.7 Z"/>
<path class="a" d="M2557 1345.7L2525 1338.7L2525 1352.7 Z"/>
</g>
<g id="right">
<path d="M3360.8 88.4L3360.8 1425"/>
<path d="M3866.5 88.4L3866.5 374.9"/>
<path d="M3360.8 128.1L3866.5 128.1"/>
<path class="a" d="M3360.8 128.1L3392.8 121.1L3392.8 135.1 Z"/>
<path class="a" d="M3866.5 128.1L3834.5 121.1L3834.5 135.1 Z"/>
<text class="d" transform="translate(3615.5 107.8) scale(0.74 1)" font-size="61">408</text>
<path d="M3465.9 184.6L3465.9 166.9L3687.3 166.9L3687.3 184.6"/>
<path d="M3360.8 186.9Q3360.8 184.6 3364.1 184.6L3845.2 184.6Q3851.9 184.6 3851.9 191.2L3851.9 202.6"/>
<path d="M3368.4 192.6L3845.8 192.6"/>
<path d="M3845.8 202.6L3845.8 189.2Q3845.8 185.9 3843.5 184.9"/>
<path d="M3361.4 185.6L3368.4 192.6"/>
<path d="M3368.4 192.6L3368.4 1066.9"/>
<rect x="3409.2" y="202.6" width="457.3" height="172.3" rx="1.3"/>
<rect x="3411.5" y="204.9" width="452.7" height="167.6"/>
<circle cx="3484.3" cy="239.6" r="5" style="stroke-width:1;fill:#1c1c1c"/>
<path d="M3481.3 239.6h6" style="stroke:#aaa;stroke-width:1"/>
<path d="M3484.3 236.6v6" style="stroke:#aaa;stroke-width:1"/>
<circle cx="3484.3" cy="338.8" r="5" style="stroke-width:1;fill:#1c1c1c"/>
<path d="M3481.3 338.8h6" style="stroke:#aaa;stroke-width:1"/>
<path d="M3484.3 335.8v6" style="stroke:#aaa;stroke-width:1"/>
<circle cx="3791.8" cy="239.6" r="5" style="stroke-width:1;fill:#1c1c1c"/>
<path d="M3788.8 239.6h6" style="stroke:#aaa;stroke-width:1"/>
<path d="M3791.8 236.6v6" style="stroke:#aaa;stroke-width:1"/>
<circle cx="3791.8" cy="338.8" r="5" style="stroke-width:1;fill:#1c1c1c"/>
<path d="M3788.8 338.8h6" style="stroke:#aaa;stroke-width:1"/>
<path d="M3791.8 335.8v6" style="stroke:#aaa;stroke-width:1"/>
<path d="M3866.5 233.9C3871.9 236.5 3871.9 242.7 3866.5 245.3Z" style="fill:#777;stroke-width:1.6"/>
<path d="M3866.5 333.1C3871.9 335.7 3871.9 341.9 3866.5 344.5Z" style="fill:#777;stroke-width:1.6"/>
<path d="M3804.1 325.4L3988.4 325.4"/>
<path class="a" d="M3866.5 325.4L3834.5 318.4L3834.5 332.4 Z"/>
<path class="a" d="M3907.6 325.4L3939.6 318.4L3939.6 332.4 Z"/>
<text class="d" transform="translate(3954 305.4) scale(0.74 1)" font-size="61">33</text>
<path d="M3907.6 286L3907.6 1425"/>
<path d="M3409.2 376.5L3907.6 376.5"/>
<path d="M3409.2 381.2L3907.6 381.2"/>
<path d="M3901.6 376.5L3901.6 381.2"/>
<path d="M3444.6 381.2L3459.2 381.2" style="stroke-width:3"/>
<path d="M3593.1 381.2L3607.8 381.2" style="stroke-width:3"/>
<path d="M3741.7 381.2L3756.4 381.2" style="stroke-width:3"/>
<path d="M3409.2 374.9L3409.2 1006.1"/>
<path d="M3414.2 381.2L3414.2 1001.1"/>
<path d="M3845.8 381.2L3845.8 423.9"/>
<path d="M3851.9 381.2L3851.9 423.9"/>
<path d="M3845.8 961.7L3845.8 1066.9"/>
<path d="M3851.9 961.7L3851.9 1120.3"/>
<path d="M3409.2 435.3L3409.2 449.3" style="stroke-width:2.8"/>
<path d="M3414.2 435.3L3414.2 449.3" style="stroke-width:2.8"/>
<path d="M3409.2 559.8L3409.2 573.8" style="stroke-width:2.8"/>
<path d="M3414.2 559.8L3414.2 573.8" style="stroke-width:2.8"/>
<path d="M3409.2 683.3L3409.2 697.3" style="stroke-width:2.8"/>
<path d="M3414.2 683.3L3414.2 697.3" style="stroke-width:2.8"/>
<path d="M3409.2 808.5L3409.2 822.5" style="stroke-width:2.8"/>
<path d="M3414.2 808.5L3414.2 822.5" style="stroke-width:2.8"/>
<path d="M3409.2 933.7L3409.2 947.7" style="stroke-width:2.8"/>
<path d="M3414.2 933.7L3414.2 947.7" style="stroke-width:2.8"/>
<rect x="3356.8" y="426.6" width="4" height="10"/>
<rect x="3438.5" y="401.6" width="112.6" height="13.3" rx="0.7"/>
<path d="M3469.6 401.6L3469.6 414.9"/>
<path d="M3472.9 401.6L3472.9 414.9"/>
<path d="M3542.7 401.6L3542.7 414.9"/>
<path d="M3451.9 401.6L3451.9 414.9"/>
<path d="M3450.2 414.9L3450.2 423.9"/>
<path d="M3460.9 414.9L3460.9 423.9"/>
<path d="M3490.6 423.9L3494 419.9L3503.3 419.9L3506.7 423.9"/>
<path d="M3492.6 421.9L3504.7 421.9" style="stroke-width:1.5"/>
<path d="M3637.5 423.9L3640.9 419.9L3650.2 419.9L3653.5 423.9"/>
<path d="M3639.5 421.9L3651.5 421.9" style="stroke-width:1.5"/>
<path d="M3784.4 423.9L3787.8 419.9L3797.1 419.9L3800.4 423.9"/>
<path d="M3786.4 421.9L3798.4 421.9" style="stroke-width:1.5"/>
<path d="M3876.2 423.9L3879.6 419.9L3888.9 419.9L3892.3 423.9"/>
<path d="M3878.2 421.9L3890.2 421.9" style="stroke-width:1.5"/>
<rect x="3441.9" y="423.9" width="463" height="536.8" rx="2"/>
<path d="M3441.9 426.4L3904.9 426.4"/>
<path d="M3441.9 958.2L3904.9 958.2"/>
<path d="M3444.4 423.9L3444.4 960.7"/>
<path d="M3904.9 437.3L3455.2 437.3L3455.2 948.4L3904.9 948.4"/>
<path d="M3443.9 425.9L3455.2 437.3"/>
<path d="M3443.9 958.7L3455.2 948.4"/>
<path d="M3899.3 437.3L3899.3 948.4"/>
<path d="M3901.9 437.3L3901.9 948.4" style="stroke-width:3"/>
<path d="M3906.1 423.9L3906.1 960.7" style="stroke-width:3.5"/>
<path d="M3898.3 475.7L3495.3 475.7L3495.3 909L3898.3 909" style="stroke-width:2.6"/>
<path d="M3898.3 494L3513.7 494L3513.7 890.6L3898.3 890.6"/>
<path d="M3584.4 437.3L3584.4 948.4"/>
<path class="a" d="M3584.4 437.3L3577.4 469.3L3591.4 469.3 Z"/>
<path class="a" d="M3584.4 948.4L3577.4 916.4L3591.4 916.4 Z"/>
<text class="d" transform="translate(3565.4 689.8) rotate(-90) scale(0.74 1)" font-size="61">411</text>
<path class="w" transform="translate(3565.4 689.8) rotate(-90) scale(0.74 1)" d="M-17.4 1.8L-5.5 1.8L-3.9 -6.4L-16.1 -6.4ZM0.8 1.8L12.8 1.8L14.1 -6.4L2.4 -6.4ZM16.5 1.8L28.4 1.8L30.0 -6.4L17.9 -6.4ZM34.7 1.8L46.7 1.8L48.0 -6.4L36.3 -6.4Z"/>
<path d="M3455.2 839.9L3902.6 839.9"/>
<path class="a" d="M3455.2 839.9L3487.2 832.9L3487.2 846.9 Z"/>
<path class="a" d="M3902.6 839.9L3870.6 832.9L3870.6 846.9 Z"/>
<text class="d" transform="translate(3681.4 819.9) scale(0.74 1)" font-size="61">362</text>
<path d="M3442.6 449.3C3436.8 452.1 3436.8 459.1 3442.6 461.9Z" style="fill:#777;stroke-width:1.6"/>
<path d="M3442.6 638.3C3436.8 641.1 3436.8 648.1 3442.6 650.9Z" style="fill:#777;stroke-width:1.6"/>
<path d="M3442.6 732.4C3436.8 735.2 3436.8 742.2 3442.6 745Z" style="fill:#777;stroke-width:1.6"/>
<path d="M3442.6 922.7C3436.8 925.5 3436.8 932.5 3442.6 935.3Z" style="fill:#777;stroke-width:1.6"/>
<path d="M3442.6 920.4C3436.8 923.2 3436.8 930.2 3442.6 933Z" style="fill:#777;stroke-width:1.6"/>
<rect x="3957.7" y="686.3" width="27.7" height="197.7" rx="2"/>
<path d="M3958.7 688.3L3984.4 688.3"/>
<path d="M3958.7 881.6L3984.4 881.6"/>
<path d="M3957.7 704.3L3985.4 704.3"/>
<path d="M3957.7 759.8L3985.4 759.8"/>
<path d="M3905.9 704.3L3957.7 704.3"/>
<path d="M3905.9 725.4L3957.7 725.4"/>
<path d="M3916 704.3L3916 725.4"/>
<path d="M3920.3 704.3L3920.3 725.4"/>
<path d="M3938.3 704.3L3938.3 725.4"/>
<path d="M3946 704.3L3946 725.4"/>
<path d="M3490.6 961.7Q3498.6 967.4 3506.7 961.7" style="fill:#333"/>
<path d="M3637.5 961.7Q3645.5 967.4 3653.5 961.7" style="fill:#333"/>
<path d="M3784.4 961.7Q3792.4 967.4 3800.4 961.7" style="fill:#333"/>
<path d="M3876.2 961.7Q3884.2 967.4 3892.3 961.7" style="fill:#333"/>
<rect x="3438.5" y="972.4" width="112.6" height="12.7" rx="0.7"/>
<path d="M3469.6 972.4L3469.6 985.1"/>
<path d="M3472.9 972.4L3472.9 985.1"/>
<path d="M3542.7 972.4L3542.7 985.1"/>
<path d="M3451.9 972.4L3451.9 985.1"/>
<path d="M3443.6 972.4L3443.6 966.7L3448.6 961.7"/>
<path d="M3470.3 972.4L3470.3 969.4L3463.6 969.4L3463.6 961.7"/>
<path d="M3443.6 969.4L3463.6 969.4"/>
<rect x="3854.2" y="971.1" width="10" height="11.3"/>
<path d="M3864.2 970.1L3885.9 966.7Q3888.2 976.8 3885.9 986.8L3864.2 983.4Z"/>
<path d="M3409.2 1001.1L3907.6 1001.1"/>
<path d="M3409.2 1006.1L4056.2 1006.1"/>
<path d="M3901.6 1001.1L3901.6 1006.1"/>
<path d="M3444.6 1001.1L3459.2 1001.1" style="stroke-width:3"/>
<path d="M3444.6 1006.1L3459.2 1006.1" style="stroke-width:3"/>
<path d="M3618.2 1001.1L3632.8 1001.1" style="stroke-width:3"/>
<path d="M3618.2 1006.1L3632.8 1006.1" style="stroke-width:3"/>
<path d="M3792.4 1001.1L3807.1 1001.1" style="stroke-width:3"/>
<path d="M3792.4 1006.1L3807.1 1006.1" style="stroke-width:3"/>
<path d="M3360.8 1066.9L3851.9 1066.9"/>
<path d="M3789.1 1082.3L3993.7 1082.3"/>
<path class="a" d="M3851.9 1082.3L3819.9 1075.3L3819.9 1089.3 Z"/>
<path class="a" d="M3907.6 1082.3L3939.6 1075.3L3939.6 1089.3 Z"/>
<text class="d" transform="translate(3959.2 1061.9) scale(0.74 1)" font-size="61">45</text>
<path d="M4016.4 1006.1L4016.4 1397.4"/>
<path class="a" d="M4016.4 1006.1L4009.4 1038.1L4023.4 1038.1 Z"/>
<path class="a" d="M4016.4 1163L4009.4 1131L4023.4 1131 Z"/>
<path d="M3843.5 1163L4056.2 1163"/>
<text class="d" transform="translate(3997.1 1304.6) rotate(-90) scale(0.74 1)" font-size="61">127-144</text>
<path class="w" transform="translate(3997.1 1304.6) rotate(-90) scale(0.74 1)" d="M-112.4 1.8L-100.5 1.8L-98.9 -6.4L-111.0 -6.4ZM-94.2 1.8L-82.1 1.8L-80.9 -6.4L-92.6 -6.4ZM9.7 1.8L21.6 1.8L23.2 -6.4L11.1 -6.4ZM27.9 1.8L39.9 1.8L41.2 -6.4L29.5 -6.4Z"/>
<rect x="3400.7" y="1113.4" width="70.6" height="10.4"/>
<path d="M3419.7 1113.4L3419.7 1123.8"/>
<path d="M3408.8 1123.8L3408.8 1163.5"/>
<path d="M3413.5 1123.8L3413.5 1163.5"/>
<path d="M3470.8 1123.8L3470.8 1163.5"/>
<path d="M3408.8 1163.5L3508.2 1163.5"/>
<path d="M3851.7 1113.6L3781 1113.6L3781 1123.7L3850.4 1123.7Q3851.9 1123.7 3851.9 1122.2"/>
<path d="M3832.4 1113.6L3832.4 1123.7"/>
<path d="M3838.8 1067.2L3838.8 1113.6"/>
<path d="M3843.8 1067.2L3843.8 1113.6"/>
<path d="M3838.8 1123.7L3838.8 1163.5"/>
<path d="M3843.8 1123.7L3843.8 1163.5"/>
<path d="M3781.4 1123.7L3781.4 1163.5"/>
<path d="M3744.4 1163.5L3843.8 1163.5"/>
<rect x="3430.5" y="1124.1" width="23.2" height="5.9" rx="1.6"/>
<path d="M3436.2 1124.1L3436.2 1130"/>
<path d="M3448 1124.1L3448 1130"/>
<path d="M3435.8 1130L3435.8 1142.6" style="stroke-width:2.2"/>
<path d="M3448.4 1130L3448.4 1142.6" style="stroke-width:2.2"/>
<path d="M3442.1 1127.3L3442.1 1163.5"/>
<rect x="3433.8" y="1142.6" width="16.6" height="7.8" rx="1"/>
<path d="M3429.5 1151.6L3454.7 1151.6" style="stroke-width:3.2"/>
<path d="M3429.7 1152L3419.6 1162.9L3464.6 1162.9L3454.5 1152"/>
<path d="M3418.1 1163.1L3466.1 1163.1" style="stroke-width:3.2"/>
<path d="M3442.1 1025.2L3442.1 1071.7"/>
<path d="M3442.1 1089.4L3442.1 1109"/>
<path d="M3442.1 1163.5L3442.1 1322.3"/>
<rect x="3798.4" y="1124.1" width="23.2" height="5.9" rx="1.6"/>
<path d="M3804.1 1124.1L3804.1 1130"/>
<path d="M3815.9 1124.1L3815.9 1130"/>
<path d="M3803.7 1130L3803.7 1142.6" style="stroke-width:2.2"/>
<path d="M3816.3 1130L3816.3 1142.6" style="stroke-width:2.2"/>
<path d="M3810 1127.3L3810 1163.5"/>
<rect x="3801.7" y="1142.6" width="16.6" height="7.8" rx="1"/>
<path d="M3797.4 1151.6L3822.6 1151.6" style="stroke-width:3.2"/>
<path d="M3797.6 1152L3787.5 1162.9L3832.5 1162.9L3822.4 1152"/>
<path d="M3786 1163.1L3834 1163.1" style="stroke-width:3.2"/>
<path d="M3810 1025.2L3810 1071.7"/>
<path d="M3810 1089.4L3810 1109"/>
<path d="M3810 1163.5L3810 1322.3"/>
<path d="M3409.2 1066.9L3409.2 1113.6"/>
<path d="M3414.2 1066.9L3414.2 1113.6"/>
<path d="M3508.2 1163.5Q3626.3 1100.5 3744.4 1163.5"/>
<path d="M3441.9 1282.9L3809.8 1282.9"/>
<path class="a" d="M3441.9 1282.9L3473.9 1275.9L3473.9 1289.9 Z"/>
<path class="a" d="M3809.8 1282.9L3777.8 1275.9L3777.8 1289.9 Z"/>
<text class="d" transform="translate(3628.9 1262.2) scale(0.74 1)" font-size="61">296</text>
<path d="M3360.8 1388.4L3907.6 1388.4"/>
<path class="a" d="M3360.8 1388.4L3392.8 1381.4L3392.8 1395.4 Z"/>
<path class="a" d="M3907.6 1388.4L3875.6 1381.4L3875.6 1395.4 Z"/>
<text class="d" transform="translate(3637.8 1369) scale(0.74 1)" font-size="61">441</text>
<path class="w" transform="translate(3637.8 1369) scale(0.74 1)" d="M16.5 1.8L28.4 1.8L30.0 -6.4L17.9 -6.4ZM34.7 1.8L46.7 1.8L48.0 -6.4L36.3 -6.4Z"/>
</g>
<g id="top">
<path d="M1709.3 1511.7L1709.3 2412.4"/>
<path d="M2139 1511.7L2139 2053.5"/>
<path d="M1709.3 1551.1L2139 1551.1"/>
<path class="a" d="M1709.3 1551.1L1741.3 1544.1L1741.3 1558.1 Z"/>
<path class="a" d="M2139 1551.1L2107 1544.1L2107 1558.1 Z"/>
<text class="d" transform="translate(1926.3 1530.1) scale(0.74 1)" font-size="61">348</text>
<path d="M1555.8 1749.4L1764.7 1749.4"/>
<path d="M1595.8 1749.4L1595.8 2248.8"/>
<path class="a" d="M1595.8 1749.4L1588.8 1781.4L1602.8 1781.4 Z"/>
<path class="a" d="M1595.8 2248.8L1588.8 2216.8L1602.8 2216.8 Z"/>
<path d="M1555.8 2248.8L2515.3 2248.8"/>
<text class="d" transform="translate(1576.1 1930.5) rotate(-90) scale(0.74 1)" font-size="61">402</text>
<path d="M2652.2 1701L2652.2 1916.7"/>
<path class="a" d="M2652.2 1701L2645.2 1733L2659.2 1733 Z"/>
<path class="a" d="M2652.2 1916.7L2645.2 1884.7L2659.2 1884.7 Z"/>
<path d="M2522.6 1916.7L2691.9 1916.7"/>
<text class="d" transform="translate(2632.8 1807.4) rotate(-90) scale(0.74 1)" font-size="61">171</text>
<path class="w" transform="translate(2632.8 1807.4) rotate(-90) scale(0.74 1)" d="M-51.4 1.8L-39.4 1.8L-37.8 -6.4L-50.0 -6.4ZM-33.1 1.8L-21.1 1.8L-19.9 -6.4L-31.5 -6.4ZM16.5 1.8L28.4 1.8L30.0 -6.4L17.9 -6.4ZM34.7 1.8L46.7 1.8L48.0 -6.4L36.3 -6.4Z"/>
<path d="M1709.3 2372.7L2515.3 2372.7"/>
<path class="a" d="M1709.3 2372.7L1741.3 2365.7L1741.3 2379.7 Z"/>
<path class="a" d="M2515.3 2372.7L2483.3 2365.7L2483.3 2379.7 Z"/>
<text class="d" transform="translate(2113.5 2352.3) scale(0.74 1)" font-size="61">649</text>
<path d="M1772.1 1701L2691.9 1701"/>
<path d="M1764.7 2188.7L1764.7 1708Q1764.7 1701 1771.7 1701"/>
<path d="M1773.1 1703L1773.1 2188.7"/>
<path d="M1819.5 1701L1819.5 2130.3"/>
<path d="M1827.2 2130.3L1827.2 1708Q1827.2 1701 1820.2 1701"/>
<path d="M1831.5 2130.3L1831.5 1733.4Q1831.5 1715.4 1849.5 1715.4L2497.6 1715.4Q2514.3 1715.4 2514.3 1733.4L2514.3 1843.9Q2514.3 1848.9 2517.6 1852.2Q2521.3 1856.6 2521.3 1863.9L2521.3 1880.6"/>
<path d="M1828.8 1740.4L1828.8 1780.5"/>
<path d="M1827.8 1743.7L1831.5 1743.7"/>
<path d="M1827.8 1753.1L1831.5 1753.1"/>
<path d="M1827.8 1771.1L1831.5 1771.1"/>
<path d="M1827.8 1775.5L1831.5 1775.5"/>
<path d="M2497.6 1715.4L2497.6 1699.7Q2497.6 1698 2499.3 1698L2505.3 1698Q2506.9 1698 2506.9 1699.7L2506.9 1718.7"/>
<path d="M2515.3 1768.8L2531 1768.8Q2533.3 1768.8 2533.3 1771.1L2533.3 1819.2Q2533.3 1821.5 2531 1821.5L2515.3 1821.5"/>
<path d="M2510.9 1940L2510.9 1972.4L2521 1972.4L2521 1998.4Q2520.3 2003.4 2515.3 2005.8L2515.3 2412.4"/>
<path d="M2510.9 1923.4L2510.9 1940"/>
<circle cx="1915.4" cy="1751.5" r="12" style="stroke-width:3.2"/>
<circle cx="1915.4" cy="1751.5" r="7.8" style="stroke-width:2.9"/>
<circle cx="2001.2" cy="1751.5" r="16.8" style="stroke-width:2.6"/>
<circle cx="2001.2" cy="1751.5" r="13" style="stroke-width:2"/>
<path d="M1991.1 1743.4L2011.4 1743.4"/>
<path d="M1991.1 1759.5L2011.4 1759.5"/>
<path d="M1992.5 1743.4Q1989 1751.5 1992.5 1759.5"/>
<path d="M2010 1743.4Q2013.5 1751.5 2010 1759.5"/>
<circle cx="1896.8" cy="1870.3" r="26.3" style="stroke-width:2.8"/>
<circle cx="1896.8" cy="1870.3" r="21" style="stroke-width:2.8"/>
<circle cx="2305.2" cy="1751.1" r="11" style="stroke-width:2.4"/>
<circle cx="2305.2" cy="1751.1" r="8" style="stroke-width:2"/>
<circle cx="2424.5" cy="1751.1" r="12" style="stroke-width:3.2"/>
<circle cx="2424.5" cy="1751.1" r="7.8" style="stroke-width:2.9"/>
<circle cx="2449.2" cy="1870.6" r="26.2" style="stroke-width:2.8"/>
<circle cx="2449.2" cy="1870.6" r="20.9" style="stroke-width:2.8"/>
<circle cx="2139.2" cy="1917.2" r="111.4" style="stroke-width:2.8"/>
<circle cx="2139.2" cy="1917.2" r="105.8" style="stroke-width:2"/>
<circle cx="2139.2" cy="1917.2" r="98.8" style="stroke-width:1.8"/>
<path d="M2054.3 1845L2050.3 1841.6L2063.5 1828.3L2066.9 1832.4"/>
<path d="M2211.4 1832.4L2214.8 1828.3L2228 1841.6L2224 1845"/>
<path d="M2224 1989.4L2228 1992.8L2214.8 2006.1L2211.4 2002"/>
<path d="M2066.9 2002L2063.5 2006.1L2050.3 1992.8L2054.3 1989.4"/>
<path d="M2046.3 1873.9L2051.3 1864.4" style="stroke-width:3"/>
<path d="M2227 1864.4L2232 1873.9" style="stroke-width:3"/>
<path d="M2058.5 1859.4L2217.1 1859.4"/>
<path d="M2117.9 1820.8L2161.2 1820.8" style="stroke-width:1.5"/>
<path d="M2092.1 2004.1L2187.1 2004.1"/>
<path d="M2134 2022.3L2144.5 2022.3" style="stroke-width:3"/>
<path d="M2077.4 1904.1L2063.4 1904.1Q2053.6 1905.1 2053.6 1911.4"/>
<path d="M2077.4 1930.7L2063.4 1930.7Q2053.6 1929.5 2053.6 1923.7"/>
<rect x="2079.1" y="1906.5" width="5.3" height="21.6"/>
<path d="M2077.4 1910.7L2077.4 1903.3L2090 1903.3L2090 1910.7"/>
<path d="M2077.4 1923.7L2077.4 1931.2L2090 1931.2L2090 1923.7"/>
<path d="M2084.4 1906.5L2090 1906.5"/>
<path d="M2084.4 1928.1L2090 1928.1"/>
<path d="M2200.4 1904.1L2214.3 1904.1Q2224.1 1905.1 2224.1 1911.4"/>
<path d="M2200.4 1930.7L2214.3 1930.7Q2224.1 1929.5 2224.1 1923.7"/>
<rect x="2193.4" y="1906.5" width="5.3" height="21.6"/>
<path d="M2200.4 1910.7L2200.4 1903.3L2187.8 1903.3L2187.8 1910.7"/>
<path d="M2200.4 1923.7L2200.4 1931.2L2187.8 1931.2L2187.8 1923.7"/>
<path d="M2193.4 1906.5L2187.8 1906.5"/>
<path d="M2193.4 1928.1L2187.8 1928.1"/>
<path d="M2507.6 1910.7L1994.9 1910.7L1994.9 1923.7L2507.6 1923.7"/>
<path d="M2001.9 1917L2507.6 1917"/>
<path d="M2510.2 1910.8L2510.2 1885Q2510.2 1881.1 2514.1 1881.1L2520.4 1881.1Q2523.9 1881.5 2523.9 1885.7L2523.9 1911.5Q2523.5 1917.8 2517.6 1921.2"/>
<path d="M2507.1 1910.8Q2511.3 1910.8 2512.7 1908.7Q2516.9 1905.9 2521.8 1908.7Q2523.9 1910.8 2523.9 1912.9"/>
<path d="M2508.8 1910.8L2508.8 1921.2"/>
<rect x="2520.7" y="1860.2" width="6.6" height="25.1"/>
<path d="M2520.7 1872.4L2527.3 1872.4"/>
<rect x="2531.5" y="1847.3" width="5.3" height="50.3" style="stroke-width:2.2"/>
<rect x="2527.3" y="1861.2" width="3.5" height="37.1" style="stroke-width:2.6;fill:#777" rx="0.6"/>
<rect x="2537.8" y="1861.2" width="3.5" height="37.1" style="stroke-width:2.6;fill:#777" rx="0.6"/>
<rect x="2541.3" y="1872.8" width="7.4" height="12.9" style="stroke-width:2.2"/>
<rect x="2485.1" y="1904.5" width="3.1" height="16.7" style="stroke-width:2.8;fill:#333"/>
<rect x="2492.4" y="1904.5" width="3.2" height="16.7" style="stroke-width:2.8;fill:#333"/>
<rect x="2486.8" y="1897.6" width="6.7" height="23.6" style="stroke-width:2.2"/>
<rect x="2485.9" y="1924" width="8.4" height="12.7" style="stroke-width:2.6" rx="1"/>
<path d="M1831.5 2092.6L2514.3 2092.6"/>
<path d="M1831.5 2104.3L2514.3 2104.3"/>
<path d="M1905.6 2105.9L1905.6 2128.6" style="stroke-width:3"/>
<path d="M1862.2 2128.6L1905.6 2128.6" style="stroke-width:3"/>
<path d="M1828.8 2108.6L1828.8 2130.3"/>
<path d="M2435.2 2105.9L2435.2 2128.6" style="stroke-width:3"/>
<path d="M2435.2 2128.6L2477.6 2128.6" style="stroke-width:3"/>
<path d="M1828.8 2130.3L2551 2130.3Q2557.7 2130.3 2557.7 2137.3L2557.7 2185.7Q2557.7 2192.7 2551 2192.7L1767.1 2192.7"/>
<path d="M1822.2 2137.6L2554.3 2137.6"/>
<path d="M1773.8 2185.4L2554.3 2185.4"/>
<path d="M2551 2130.3Q2555 2133.3 2555 2137.6"/>
<path d="M2551 2192.7Q2555 2189.7 2555 2185.4"/>
<path d="M1828.8 2130.3L1752.7 2206.1"/>
<path d="M1822.2 2137.6L1773.1 2185.4"/>
<path d="M1764.7 2186.4L1771.1 2191.7"/>
<path d="M1764.7 2185.4L1773.1 2185.4"/>
<path d="M1755.4 2203.7L2515.3 2203.7"/>
<path d="M1752.1 2207.1L2515.3 2207.1"/>
<path d="M1750.4 1750.4L1750.4 2205.4"/>
<path d="M1753.1 1750.4L1753.1 2203.7"/>
<path d="M1750.4 1818.8C1745.4 1821.4 1745.4 1827.6 1750.4 1830.2Z" style="fill:#777;stroke-width:1.6"/>
<path d="M1750.4 2126.3C1745.4 2128.9 1745.4 2135.1 1750.4 2137.7Z" style="fill:#777;stroke-width:1.6"/>
<path d="M1765 1801.8Q1758.8 1803.8 1758.8 1809.8L1758.8 1922.3Q1758.8 1928.3 1765 1930.3" style="stroke-width:2.2"/>
<path d="M1761.6 1807.8V1924.3" stroke-dasharray="5 2" style="stroke-width:1.4"/>
<path d="M1764.8 1805.8L1764.8 1926.3" style="stroke-width:1.4"/>
<path d="M1765 1952.7Q1758.8 1954.7 1758.8 1960.7L1758.8 2073Q1758.8 2079 1765 2081" style="stroke-width:2.2"/>
<path d="M1761.6 1958.7V2075" stroke-dasharray="5 2" style="stroke-width:1.4"/>
<path d="M1764.8 1956.7L1764.8 2077" style="stroke-width:1.4"/>
<path d="M1765 2101.9Q1758.8 2103.9 1758.8 2109.9L1758.8 2147Q1758.8 2153 1765 2155" style="stroke-width:2.2"/>
<path d="M1761.6 2107.9V2149" stroke-dasharray="5 2" style="stroke-width:1.4"/>
<path d="M1764.8 2105.9L1764.8 2151" style="stroke-width:1.4"/>
<path d="M1758.8 1822.1L1765 1822.1"/>
<path d="M1758.8 1827.7L1765 1827.7"/>
<path d="M1758.8 1891.2L1765 1891.2"/>
<path d="M1758.8 2130.6L1765 2130.6"/>
<path d="M1758.8 2134.8L1765 2134.8"/>
<path d="M1798.1 2193.1Q1800.1 2199.1 1805.5 2199.7L1843.2 2199.7Q1848.5 2199.1 1850.5 2193.1"/>
<path d="M1800.1 2196.1L1848.5 2196.1"/>
<path d="M1808.1 2196.1L1808.1 2199.7" style="stroke-width:1.5"/>
<path d="M1817.5 2196.1L1817.5 2199.7" style="stroke-width:1.5"/>
<path d="M1826.8 2196.1L1826.8 2199.7" style="stroke-width:1.5"/>
<path d="M1836.2 2196.1L1836.2 2199.7" style="stroke-width:1.5"/>
<path d="M1871.6 2193.1Q1873.6 2199.1 1878.9 2199.7L1966.7 2199.7Q1972.1 2199.1 1974.1 2193.1"/>
<path d="M1873.6 2196.1L1972.1 2196.1"/>
<path d="M1881.6 2196.1L1881.6 2199.7" style="stroke-width:1.5"/>
<path d="M1890.9 2196.1L1890.9 2199.7" style="stroke-width:1.5"/>
<path d="M1900.3 2196.1L1900.3 2199.7" style="stroke-width:1.5"/>
<path d="M1909.6 2196.1L1909.6 2199.7" style="stroke-width:1.5"/>
<path d="M1919 2196.1L1919 2199.7" style="stroke-width:1.5"/>
<path d="M1928.3 2196.1L1928.3 2199.7" style="stroke-width:1.5"/>
<path d="M1937.7 2196.1L1937.7 2199.7" style="stroke-width:1.5"/>
<path d="M1947 2196.1L1947 2199.7" style="stroke-width:1.5"/>
<path d="M1956.4 2196.1L1956.4 2199.7" style="stroke-width:1.5"/>
<path d="M1965.7 2196.1L1965.7 2199.7" style="stroke-width:1.5"/>
<path d="M1995.8 2193.1Q1997.8 2199.1 2003.1 2199.7L2090.2 2199.7Q2095.6 2199.1 2097.6 2193.1"/>
<path d="M1997.8 2196.1L2095.6 2196.1"/>
<path d="M2005.8 2196.1L2005.8 2199.7" style="stroke-width:1.5"/>
<path d="M2015.1 2196.1L2015.1 2199.7" style="stroke-width:1.5"/>
<path d="M2024.5 2196.1L2024.5 2199.7" style="stroke-width:1.5"/>
<path d="M2033.8 2196.1L2033.8 2199.7" style="stroke-width:1.5"/>
<path d="M2043.2 2196.1L2043.2 2199.7" style="stroke-width:1.5"/>
<path d="M2052.5 2196.1L2052.5 2199.7" style="stroke-width:1.5"/>
<path d="M2061.9 2196.1L2061.9 2199.7" style="stroke-width:1.5"/>
<path d="M2071.2 2196.1L2071.2 2199.7" style="stroke-width:1.5"/>
<path d="M2080.6 2196.1L2080.6 2199.7" style="stroke-width:1.5"/>
<path d="M2089.9 2196.1L2089.9 2199.7" style="stroke-width:1.5"/>
<path d="M2120.3 2193.1Q2122.3 2199.1 2127.6 2199.7L2215.4 2199.7Q2220.8 2199.1 2222.8 2193.1"/>
<path d="M2122.3 2196.1L2220.8 2196.1"/>
<path d="M2130.3 2196.1L2130.3 2199.7" style="stroke-width:1.5"/>
<path d="M2139.7 2196.1L2139.7 2199.7" style="stroke-width:1.5"/>
<path d="M2149 2196.1L2149 2199.7" style="stroke-width:1.5"/>
<path d="M2158.4 2196.1L2158.4 2199.7" style="stroke-width:1.5"/>
<path d="M2167.7 2196.1L2167.7 2199.7" style="stroke-width:1.5"/>
<path d="M2177 2196.1L2177 2199.7" style="stroke-width:1.5"/>
<path d="M2186.4 2196.1L2186.4 2199.7" style="stroke-width:1.5"/>
<path d="M2195.7 2196.1L2195.7 2199.7" style="stroke-width:1.5"/>
<path d="M2205.1 2196.1L2205.1 2199.7" style="stroke-width:1.5"/>
<path d="M2214.4 2196.1L2214.4 2199.7" style="stroke-width:1.5"/>
<path d="M2244.5 2193.1Q2246.5 2199.1 2251.8 2199.7L2339.6 2199.7Q2345 2199.1 2347 2193.1"/>
<path d="M2246.5 2196.1L2345 2196.1"/>
<path d="M2254.5 2196.1L2254.5 2199.7" style="stroke-width:1.5"/>
<path d="M2263.9 2196.1L2263.9 2199.7" style="stroke-width:1.5"/>
<path d="M2273.2 2196.1L2273.2 2199.7" style="stroke-width:1.5"/>
<path d="M2282.5 2196.1L2282.5 2199.7" style="stroke-width:1.5"/>
<path d="M2291.9 2196.1L2291.9 2199.7" style="stroke-width:1.5"/>
<path d="M2301.2 2196.1L2301.2 2199.7" style="stroke-width:1.5"/>
<path d="M2310.6 2196.1L2310.6 2199.7" style="stroke-width:1.5"/>
<path d="M2319.9 2196.1L2319.9 2199.7" style="stroke-width:1.5"/>
<path d="M2329.3 2196.1L2329.3 2199.7" style="stroke-width:1.5"/>
<path d="M2338.6 2196.1L2338.6 2199.7" style="stroke-width:1.5"/>
<path d="M1996.1 2193.1Q1998.2 2199.1 2003.5 2199.7L2091.3 2199.7Q2096.6 2199.1 2098.6 2193.1"/>
<path d="M1998.2 2196.1L2096.6 2196.1"/>
<path d="M2006.2 2196.1L2006.2 2199.7" style="stroke-width:1.5"/>
<path d="M2015.5 2196.1L2015.5 2199.7" style="stroke-width:1.5"/>
<path d="M2024.9 2196.1L2024.9 2199.7" style="stroke-width:1.5"/>
<path d="M2034.2 2196.1L2034.2 2199.7" style="stroke-width:1.5"/>
<path d="M2043.6 2196.1L2043.6 2199.7" style="stroke-width:1.5"/>
<path d="M2052.9 2196.1L2052.9 2199.7" style="stroke-width:1.5"/>
<path d="M2062.3 2196.1L2062.3 2199.7" style="stroke-width:1.5"/>
<path d="M2071.6 2196.1L2071.6 2199.7" style="stroke-width:1.5"/>
<path d="M2080.9 2196.1L2080.9 2199.7" style="stroke-width:1.5"/>
<path d="M2090.3 2196.1L2090.3 2199.7" style="stroke-width:1.5"/>
<path d="M2120.3 2193.1Q2122.3 2199.1 2127.7 2199.7L2215.5 2199.7Q2220.8 2199.1 2222.8 2193.1"/>
<path d="M2122.3 2196.1L2220.8 2196.1"/>
<path d="M2130.4 2196.1L2130.4 2199.7" style="stroke-width:1.5"/>
<path d="M2139.7 2196.1L2139.7 2199.7" style="stroke-width:1.5"/>
<path d="M2149.1 2196.1L2149.1 2199.7" style="stroke-width:1.5"/>
<path d="M2158.4 2196.1L2158.4 2199.7" style="stroke-width:1.5"/>
<path d="M2167.7 2196.1L2167.7 2199.7" style="stroke-width:1.5"/>
<path d="M2177.1 2196.1L2177.1 2199.7" style="stroke-width:1.5"/>
<path d="M2186.4 2196.1L2186.4 2199.7" style="stroke-width:1.5"/>
<path d="M2195.8 2196.1L2195.8 2199.7" style="stroke-width:1.5"/>
<path d="M2205.1 2196.1L2205.1 2199.7" style="stroke-width:1.5"/>
<path d="M2214.5 2196.1L2214.5 2199.7" style="stroke-width:1.5"/>
<path d="M2244.5 2193.1Q2246.5 2199.1 2251.9 2199.7L2340 2199.7Q2345.4 2199.1 2347.4 2193.1"/>
<path d="M2246.5 2196.1L2345.4 2196.1"/>
<path d="M2254.5 2196.1L2254.5 2199.7" style="stroke-width:1.5"/>
<path d="M2263.9 2196.1L2263.9 2199.7" style="stroke-width:1.5"/>
<path d="M2273.2 2196.1L2273.2 2199.7" style="stroke-width:1.5"/>
<path d="M2282.6 2196.1L2282.6 2199.7" style="stroke-width:1.5"/>
<path d="M2291.9 2196.1L2291.9 2199.7" style="stroke-width:1.5"/>
<path d="M2301.3 2196.1L2301.3 2199.7" style="stroke-width:1.5"/>
<path d="M2310.6 2196.1L2310.6 2199.7" style="stroke-width:1.5"/>
<path d="M2320 2196.1L2320 2199.7" style="stroke-width:1.5"/>
<path d="M2329.3 2196.1L2329.3 2199.7" style="stroke-width:1.5"/>
<path d="M2338.7 2196.1L2338.7 2199.7" style="stroke-width:1.5"/>
<path d="M2369.1 2193.1Q2371.1 2199.1 2376.4 2199.7L2464.2 2199.7Q2469.5 2199.1 2471.6 2193.1"/>
<path d="M2371.1 2196.1L2469.5 2196.1"/>
<path d="M2379.1 2196.1L2379.1 2199.7" style="stroke-width:1.5"/>
<path d="M2388.4 2196.1L2388.4 2199.7" style="stroke-width:1.5"/>
<path d="M2397.8 2196.1L2397.8 2199.7" style="stroke-width:1.5"/>
<path d="M2407.1 2196.1L2407.1 2199.7" style="stroke-width:1.5"/>
<path d="M2416.5 2196.1L2416.5 2199.7" style="stroke-width:1.5"/>
<path d="M2425.8 2196.1L2425.8 2199.7" style="stroke-width:1.5"/>
<path d="M2435.2 2196.1L2435.2 2199.7" style="stroke-width:1.5"/>
<path d="M2444.5 2196.1L2444.5 2199.7" style="stroke-width:1.5"/>
<path d="M2453.9 2196.1L2453.9 2199.7" style="stroke-width:1.5"/>
<path d="M2463.2 2196.1L2463.2 2199.7" style="stroke-width:1.5"/>
<path d="M1816.2 2207.1Q1822.2 2213.8 1828.2 2207.1" style="fill:#333"/>
<path d="M2437.5 2207.1Q2443.5 2213.8 2449.5 2207.1" style="fill:#333"/>
<path d="M2490.2 2248.8L2490.2 2259.8L2466.5 2283.2L2466.5 2299.2"/>
<path d="M2494.3 2248.8L2494.3 2262.2L2471.6 2285.2L2471.6 2299.2"/>
<circle cx="2469.5" cy="2312.2" r="13.4" style="stroke-width:2.6"/>
<circle cx="2469.5" cy="2312.2" r="11" style="stroke-width:1.2"/>
</g>
<g id="title">
<text class="t" transform="translate(0 2365.8) scale(0.83 1)" font-size="120.6" x="12.7 118.5 196.7 247.4 333.1 371.3 451 572.8 613.5 697.3 768.1 812.9 884.7 962.2 1003.4 1080.5 1162 1203.1 1325 1367.3 1452.7 1527.2 1613.9" y="0" style="stroke-width:5px">MAJA/PW/BL/12/BS/W/DECO</text>
<path class="w" transform="translate(0 2365.8) scale(0.83 1)" d="M819.4 2.4H845.9V-12.5H819.4ZM851.2 2.4H876.5V-12.5H851.2Z"/>
</g>
</svg>
</body></html>
